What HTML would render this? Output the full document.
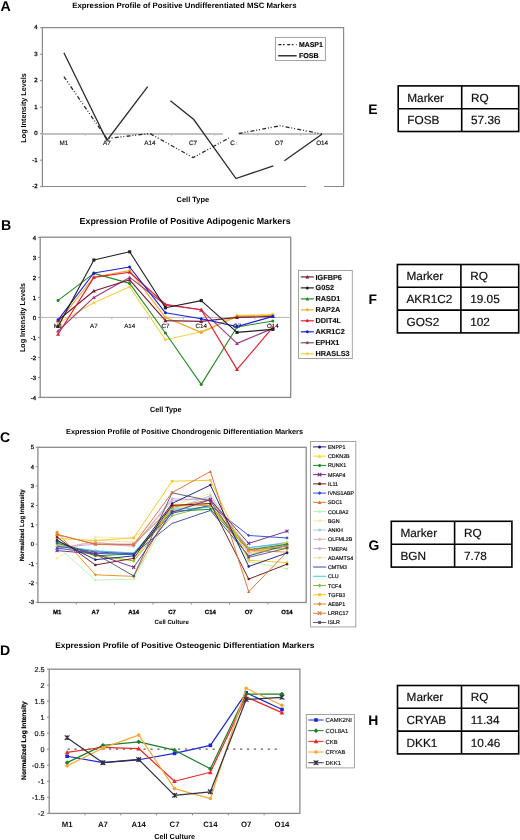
<!DOCTYPE html>
<html><head><meta charset="utf-8"><style>
html,body{margin:0;padding:0;background:#fff;}
svg{display:block;font-family:"Liberation Sans", sans-serif;filter:blur(0.35px);}
text{text-rendering:geometricPrecision;}
</style></head><body>
<svg width="520" height="840" viewBox="0 0 520 840">
<rect x="0" y="0" width="520" height="840" fill="#fff"/>
<text x="0.5" y="10.7" font-size="14.2" font-weight="bold" text-anchor="start" fill="#000" >A</text>
<text x="72.2" y="8.1" font-size="7.8" font-weight="bold" text-anchor="start" fill="#000" textLength="224.3" lengthAdjust="spacingAndGlyphs" >Expression Profile of Positive Undifferentiated MSC Markers</text>
<path d="M306.0 186.5H42.4V27.6H343.6V186.5H324.0" fill="none" stroke="#8a8a8a" stroke-width="1.2"/>
<line x1="42.40" y1="134.00" x2="222.70" y2="134.00" stroke="#c2c2c2" stroke-width="1.8" />
<line x1="238.80" y1="134.00" x2="343.60" y2="134.00" stroke="#c2c2c2" stroke-width="1.8" />
<line x1="85.43" y1="133.70" x2="85.43" y2="135.70" stroke="#bdbdbd" stroke-width="1" />
<line x1="128.46" y1="133.70" x2="128.46" y2="135.70" stroke="#bdbdbd" stroke-width="1" />
<line x1="171.49" y1="133.70" x2="171.49" y2="135.70" stroke="#bdbdbd" stroke-width="1" />
<line x1="214.51" y1="133.70" x2="214.51" y2="135.70" stroke="#bdbdbd" stroke-width="1" />
<line x1="257.54" y1="133.70" x2="257.54" y2="135.70" stroke="#bdbdbd" stroke-width="1" />
<line x1="300.57" y1="133.70" x2="300.57" y2="135.70" stroke="#bdbdbd" stroke-width="1" />
<line x1="39.90" y1="186.70" x2="42.40" y2="186.70" stroke="#8a8a8a" stroke-width="1" />
<text x="37.6" y="188.1" font-size="6.0" font-weight="normal" text-anchor="end" fill="#111" stroke="#111" stroke-width="0.3">-2</text>
<line x1="39.90" y1="160.20" x2="42.40" y2="160.20" stroke="#8a8a8a" stroke-width="1" />
<text x="37.6" y="161.6" font-size="6.0" font-weight="normal" text-anchor="end" fill="#111" stroke="#111" stroke-width="0.3">-1</text>
<line x1="39.90" y1="133.70" x2="42.40" y2="133.70" stroke="#8a8a8a" stroke-width="1" />
<text x="37.6" y="135.1" font-size="6.0" font-weight="normal" text-anchor="end" fill="#111" stroke="#111" stroke-width="0.3">0</text>
<line x1="39.90" y1="107.20" x2="42.40" y2="107.20" stroke="#8a8a8a" stroke-width="1" />
<text x="37.6" y="108.6" font-size="6.0" font-weight="normal" text-anchor="end" fill="#111" stroke="#111" stroke-width="0.3">1</text>
<line x1="39.90" y1="80.70" x2="42.40" y2="80.70" stroke="#8a8a8a" stroke-width="1" />
<text x="37.6" y="82.1" font-size="6.0" font-weight="normal" text-anchor="end" fill="#111" stroke="#111" stroke-width="0.3">2</text>
<line x1="39.90" y1="54.20" x2="42.40" y2="54.20" stroke="#8a8a8a" stroke-width="1" />
<text x="37.6" y="55.59999999999999" font-size="6.0" font-weight="normal" text-anchor="end" fill="#111" stroke="#111" stroke-width="0.3">3</text>
<line x1="39.90" y1="27.70" x2="42.40" y2="27.70" stroke="#8a8a8a" stroke-width="1" />
<text x="37.6" y="29.099999999999987" font-size="6.0" font-weight="normal" text-anchor="end" fill="#111" stroke="#111" stroke-width="0.3">4</text>
<text x="63.91428571428571" y="145.0" font-size="6.3" font-weight="normal" text-anchor="middle" fill="#111" stroke="#111" stroke-width="0.15">M1</text>
<text x="106.94285714285715" y="145.0" font-size="6.3" font-weight="normal" text-anchor="middle" fill="#111" stroke="#111" stroke-width="0.15">A7</text>
<text x="149.9714285714286" y="145.0" font-size="6.3" font-weight="normal" text-anchor="middle" fill="#111" stroke="#111" stroke-width="0.15">A14</text>
<text x="193.00000000000003" y="145.0" font-size="6.3" font-weight="normal" text-anchor="middle" fill="#111" stroke="#111" stroke-width="0.15">C7</text>
<text x="230.2" y="145.0" font-size="6.3" font-weight="normal" text-anchor="start" fill="#111" stroke="#111" stroke-width="0.2">C</text>
<text x="235.6" y="145.0" font-size="4.6" font-weight="normal" text-anchor="start" fill="#aaa" >1</text>
<text x="279.0571428571429" y="145.0" font-size="6.3" font-weight="normal" text-anchor="middle" fill="#111" stroke="#111" stroke-width="0.15">O7</text>
<text x="322.0857142857143" y="145.0" font-size="6.3" font-weight="normal" text-anchor="middle" fill="#111" stroke="#111" stroke-width="0.15">O14</text>
<text x="0" y="0" font-size="7.3" font-weight="bold" text-anchor="middle" fill="#000" textLength="69.5" lengthAdjust="spacingAndGlyphs" transform="translate(26.2 107.9) rotate(-90)">Log Intensity Levels</text>
<text x="176.6" y="201.9" font-size="7.5" font-weight="bold" text-anchor="start" fill="#000" textLength="32.6" lengthAdjust="spacingAndGlyphs" >Cell Type</text>
<polyline points="63.90,76.70 106.90,138.60 149.90,133.50 193.10,157.60 228.80,138.10" fill="none" stroke="#2b2b2b" stroke-width="1.3" stroke-linejoin="miter" stroke-dasharray="4,1.8,1,1.8,1,2.3"/>
<polyline points="238.80,133.50 280.20,125.80 321.90,134.00" fill="none" stroke="#2b2b2b" stroke-width="1.3" stroke-linejoin="miter" stroke-dasharray="4,1.8,1,1.8,1,2.3"/>
<polyline points="63.90,52.70 106.90,140.50 147.70,86.70" fill="none" stroke="#2b2b2b" stroke-width="1.3" stroke-linejoin="miter"/>
<polyline points="170.40,100.80 193.80,119.50 236.00,178.60 273.30,165.80" fill="none" stroke="#2b2b2b" stroke-width="1.3" stroke-linejoin="miter"/>
<polyline points="284.40,160.80 321.90,134.20" fill="none" stroke="#2b2b2b" stroke-width="1.3" stroke-linejoin="miter"/>
<rect x="275.40" y="37.40" width="50.00" height="23.10" stroke="#999" fill="#fff" stroke-width="0.9" />
<line x1="278.40" y1="44.60" x2="296.60" y2="44.60" stroke="#222" stroke-width="1.2" stroke-dasharray="3,1.6,1.6,2.6"/>
<line x1="278.20" y1="55.80" x2="296.60" y2="55.80" stroke="#111" stroke-width="1.3" />
<text x="299.0" y="47.2" font-size="7" font-weight="bold" text-anchor="start" fill="#000" textLength="23.8" lengthAdjust="spacingAndGlyphs" stroke="#000" stroke-width="0.15">MASP1</text>
<text x="299.0" y="58.4" font-size="7" font-weight="bold" text-anchor="start" fill="#000" textLength="19.7" lengthAdjust="spacingAndGlyphs" stroke="#000" stroke-width="0.15">FOSB</text>
<text x="368.2" y="114.1" font-size="13.9" font-weight="bold" text-anchor="start" fill="#000" >E</text>
<text x="0.9" y="229.9" font-size="14.2" font-weight="bold" text-anchor="start" fill="#000" >B</text>
<text x="79.6" y="223.5" font-size="8.7" font-weight="bold" text-anchor="start" fill="#000" textLength="211.0" lengthAdjust="spacingAndGlyphs" >Expression Profile of Positive Adipogenic Markers</text>
<rect x="40.20" y="237.20" width="250.50" height="160.20" stroke="#8a8a8a" fill="none" stroke-width="1.3" />
<line x1="40.20" y1="317.40" x2="290.70" y2="317.40" stroke="#b5b5b5" stroke-width="1.0" />
<line x1="75.99" y1="317.40" x2="75.99" y2="319.40" stroke="#b5b5b5" stroke-width="1" />
<line x1="111.77" y1="317.40" x2="111.77" y2="319.40" stroke="#b5b5b5" stroke-width="1" />
<line x1="147.56" y1="317.40" x2="147.56" y2="319.40" stroke="#b5b5b5" stroke-width="1" />
<line x1="183.34" y1="317.40" x2="183.34" y2="319.40" stroke="#b5b5b5" stroke-width="1" />
<line x1="219.13" y1="317.40" x2="219.13" y2="319.40" stroke="#b5b5b5" stroke-width="1" />
<line x1="254.91" y1="317.40" x2="254.91" y2="319.40" stroke="#b5b5b5" stroke-width="1" />
<line x1="38.00" y1="397.40" x2="40.20" y2="397.40" stroke="#8a8a8a" stroke-width="1" />
<text x="36.2" y="399.5" font-size="6.0" font-weight="normal" text-anchor="end" fill="#111" stroke="#111" stroke-width="0.3">-4</text>
<line x1="38.00" y1="377.40" x2="40.20" y2="377.40" stroke="#8a8a8a" stroke-width="1" />
<text x="36.2" y="379.5" font-size="6.0" font-weight="normal" text-anchor="end" fill="#111" stroke="#111" stroke-width="0.3">-3</text>
<line x1="38.00" y1="357.40" x2="40.20" y2="357.40" stroke="#8a8a8a" stroke-width="1" />
<text x="36.2" y="359.5" font-size="6.0" font-weight="normal" text-anchor="end" fill="#111" stroke="#111" stroke-width="0.3">-2</text>
<line x1="38.00" y1="337.40" x2="40.20" y2="337.40" stroke="#8a8a8a" stroke-width="1" />
<text x="36.2" y="339.5" font-size="6.0" font-weight="normal" text-anchor="end" fill="#111" stroke="#111" stroke-width="0.3">-1</text>
<line x1="38.00" y1="317.40" x2="40.20" y2="317.40" stroke="#8a8a8a" stroke-width="1" />
<text x="36.2" y="319.5" font-size="6.0" font-weight="normal" text-anchor="end" fill="#111" stroke="#111" stroke-width="0.3">0</text>
<line x1="38.00" y1="297.40" x2="40.20" y2="297.40" stroke="#8a8a8a" stroke-width="1" />
<text x="36.2" y="299.5" font-size="6.0" font-weight="normal" text-anchor="end" fill="#111" stroke="#111" stroke-width="0.3">1</text>
<line x1="38.00" y1="277.40" x2="40.20" y2="277.40" stroke="#8a8a8a" stroke-width="1" />
<text x="36.2" y="279.5" font-size="6.0" font-weight="normal" text-anchor="end" fill="#111" stroke="#111" stroke-width="0.3">2</text>
<line x1="38.00" y1="257.40" x2="40.20" y2="257.40" stroke="#8a8a8a" stroke-width="1" />
<text x="36.2" y="259.5" font-size="6.0" font-weight="normal" text-anchor="end" fill="#111" stroke="#111" stroke-width="0.3">3</text>
<line x1="38.00" y1="237.40" x2="40.20" y2="237.40" stroke="#8a8a8a" stroke-width="1" />
<text x="36.2" y="239.49999999999997" font-size="6.0" font-weight="normal" text-anchor="end" fill="#111" stroke="#111" stroke-width="0.3">4</text>
<text x="58.09285714285714" y="327.6" font-size="6.2" font-weight="normal" text-anchor="middle" fill="#111" stroke="#111" stroke-width="0.15">M1</text>
<text x="93.87857142857143" y="327.6" font-size="6.2" font-weight="normal" text-anchor="middle" fill="#111" stroke="#111" stroke-width="0.15">A7</text>
<text x="129.6642857142857" y="327.6" font-size="6.2" font-weight="normal" text-anchor="middle" fill="#111" stroke="#111" stroke-width="0.15">A14</text>
<text x="165.45" y="327.6" font-size="6.2" font-weight="normal" text-anchor="middle" fill="#111" stroke="#111" stroke-width="0.15">C7</text>
<text x="201.23571428571427" y="327.6" font-size="6.2" font-weight="normal" text-anchor="middle" fill="#111" stroke="#111" stroke-width="0.15">C14</text>
<text x="237.02142857142854" y="327.6" font-size="6.2" font-weight="normal" text-anchor="middle" fill="#111" stroke="#111" stroke-width="0.15">O7</text>
<text x="272.8071428571429" y="327.6" font-size="6.2" font-weight="normal" text-anchor="middle" fill="#111" stroke="#111" stroke-width="0.15">O14</text>
<text x="0" y="0" font-size="7.3" font-weight="bold" text-anchor="middle" fill="#000" textLength="69.0" lengthAdjust="spacingAndGlyphs" transform="translate(25.4 317.6) rotate(-90)">Log Intensity Levels</text>
<polyline points="58.09,323.40 93.88,302.80 129.66,286.80 165.45,339.80 201.24,331.80 237.02,315.40 272.81,314.40" fill="none" stroke="#f2d24a" stroke-width="1.15" stroke-linejoin="round"/>
<circle cx="58.09" cy="323.40" r="1.55" fill="#f2d24a"/>
<circle cx="93.88" cy="302.80" r="1.55" fill="#f2d24a"/>
<circle cx="129.66" cy="286.80" r="1.55" fill="#f2d24a"/>
<circle cx="165.45" cy="339.80" r="1.55" fill="#f2d24a"/>
<circle cx="201.24" cy="331.80" r="1.55" fill="#f2d24a"/>
<circle cx="237.02" cy="315.40" r="1.55" fill="#f2d24a"/>
<circle cx="272.81" cy="314.40" r="1.55" fill="#f2d24a"/>
<polyline points="58.09,322.40 93.88,277.00 129.66,270.60 165.45,317.40 201.24,332.40 237.02,316.40 272.81,315.40" fill="none" stroke="#f0a830" stroke-width="1.15" stroke-linejoin="round"/>
<circle cx="58.09" cy="322.40" r="1.55" fill="#f0a830"/>
<circle cx="93.88" cy="277.00" r="1.55" fill="#f0a830"/>
<circle cx="129.66" cy="270.60" r="1.55" fill="#f0a830"/>
<circle cx="165.45" cy="317.40" r="1.55" fill="#f0a830"/>
<circle cx="201.24" cy="332.40" r="1.55" fill="#f0a830"/>
<circle cx="237.02" cy="316.40" r="1.55" fill="#f0a830"/>
<circle cx="272.81" cy="315.40" r="1.55" fill="#f0a830"/>
<polyline points="58.09,300.40 93.88,273.40 129.66,283.40 165.45,333.00 201.24,384.40 237.02,327.00 272.81,321.00" fill="none" stroke="#2a8a2a" stroke-width="1.15" stroke-linejoin="round"/>
<circle cx="58.09" cy="300.40" r="1.55" fill="#2a8a2a"/>
<circle cx="93.88" cy="273.40" r="1.55" fill="#2a8a2a"/>
<circle cx="129.66" cy="283.40" r="1.55" fill="#2a8a2a"/>
<circle cx="165.45" cy="333.00" r="1.55" fill="#2a8a2a"/>
<circle cx="201.24" cy="384.40" r="1.55" fill="#2a8a2a"/>
<circle cx="237.02" cy="327.00" r="1.55" fill="#2a8a2a"/>
<circle cx="272.81" cy="321.00" r="1.55" fill="#2a8a2a"/>
<polyline points="58.09,331.00 93.88,297.40 129.66,277.40 165.45,305.00 201.24,309.80 237.02,343.40 272.81,328.40" fill="none" stroke="#9a3f8a" stroke-width="1.15" stroke-linejoin="round"/>
<path d="M58.09 328.99L60.11 332.61L56.08 332.61Z" fill="#9a3f8a"/>
<path d="M93.88 295.38L95.89 299.01L91.86 299.01Z" fill="#9a3f8a"/>
<path d="M129.66 275.38L131.68 279.01L127.65 279.01Z" fill="#9a3f8a"/>
<path d="M165.45 302.99L167.46 306.61L163.44 306.61Z" fill="#9a3f8a"/>
<path d="M201.24 307.78L203.25 311.41L199.22 311.41Z" fill="#9a3f8a"/>
<path d="M237.02 341.38L239.04 345.01L235.01 345.01Z" fill="#9a3f8a"/>
<path d="M272.81 326.38L274.82 330.01L270.79 330.01Z" fill="#9a3f8a"/>
<polyline points="58.09,320.20 93.88,291.00 129.66,279.80 165.45,320.60 201.24,321.40 237.02,317.40 272.81,316.40" fill="none" stroke="#7a1c34" stroke-width="1.15" stroke-linejoin="round"/>
<path d="M58.09 318.19L60.11 321.81L56.08 321.81Z" fill="#7a1c34"/>
<path d="M93.88 288.99L95.89 292.61L91.86 292.61Z" fill="#7a1c34"/>
<path d="M129.66 277.78L131.68 281.41L127.65 281.41Z" fill="#7a1c34"/>
<path d="M165.45 318.58L167.46 322.21L163.44 322.21Z" fill="#7a1c34"/>
<path d="M201.24 319.38L203.25 323.01L199.22 323.01Z" fill="#7a1c34"/>
<path d="M237.02 315.38L239.04 319.01L235.01 319.01Z" fill="#7a1c34"/>
<path d="M272.81 314.38L274.82 318.01L270.79 318.01Z" fill="#7a1c34"/>
<polyline points="58.09,334.20 93.88,277.40 129.66,272.20 165.45,304.20 201.24,309.80 237.02,369.40 272.81,327.40" fill="none" stroke="#e02030" stroke-width="1.15" stroke-linejoin="round"/>
<path d="M58.09 332.19L60.11 335.81L56.08 335.81Z" fill="#e02030"/>
<path d="M93.88 275.38L95.89 279.01L91.86 279.01Z" fill="#e02030"/>
<path d="M129.66 270.19L131.68 273.81L127.65 273.81Z" fill="#e02030"/>
<path d="M165.45 302.19L167.46 305.81L163.44 305.81Z" fill="#e02030"/>
<path d="M201.24 307.78L203.25 311.41L199.22 311.41Z" fill="#e02030"/>
<path d="M237.02 367.38L239.04 371.01L235.01 371.01Z" fill="#e02030"/>
<path d="M272.81 325.38L274.82 329.01L270.79 329.01Z" fill="#e02030"/>
<polyline points="58.09,319.80 93.88,273.00 129.66,267.00 165.45,312.80 201.24,318.80 237.02,326.60 272.81,316.40" fill="none" stroke="#1a22d0" stroke-width="1.15" stroke-linejoin="round"/>
<circle cx="58.09" cy="319.80" r="1.55" fill="#1a22d0"/>
<circle cx="93.88" cy="273.00" r="1.55" fill="#1a22d0"/>
<circle cx="129.66" cy="267.00" r="1.55" fill="#1a22d0"/>
<circle cx="165.45" cy="312.80" r="1.55" fill="#1a22d0"/>
<circle cx="201.24" cy="318.80" r="1.55" fill="#1a22d0"/>
<circle cx="237.02" cy="326.60" r="1.55" fill="#1a22d0"/>
<circle cx="272.81" cy="316.40" r="1.55" fill="#1a22d0"/>
<polyline points="58.09,326.40 93.88,260.00 129.66,251.80 165.45,307.80 201.24,300.60 237.02,332.40 272.81,329.40" fill="none" stroke="#222222" stroke-width="1.15" stroke-linejoin="round"/>
<rect x="56.54" y="324.85" width="3.10" height="3.10" fill="#222222"/>
<rect x="92.33" y="258.45" width="3.10" height="3.10" fill="#222222"/>
<rect x="128.11" y="250.25" width="3.10" height="3.10" fill="#222222"/>
<rect x="163.90" y="306.25" width="3.10" height="3.10" fill="#222222"/>
<rect x="199.69" y="299.05" width="3.10" height="3.10" fill="#222222"/>
<rect x="235.47" y="330.85" width="3.10" height="3.10" fill="#222222"/>
<rect x="271.26" y="327.85" width="3.10" height="3.10" fill="#222222"/>
<text x="150.0" y="412.3" font-size="7.5" font-weight="bold" text-anchor="start" fill="#000" textLength="31.5" lengthAdjust="spacingAndGlyphs" >Cell Type</text>
<rect x="298.50" y="270.50" width="53.80" height="88.00" stroke="#999" fill="#fff" stroke-width="0.9" />
<line x1="300.80" y1="276.90" x2="313.80" y2="276.90" stroke="#7a1c34" stroke-width="1.2" />
<path d="M307.30 274.95L309.25 278.46L305.35 278.46Z" fill="#7a1c34"/>
<text x="315.5" y="279.5" font-size="7.3" font-weight="bold" text-anchor="start" fill="#111" stroke="#111" stroke-width="0.12">IGFBP6</text>
<line x1="300.80" y1="287.88" x2="313.80" y2="287.88" stroke="#222222" stroke-width="1.2" />
<circle cx="307.30" cy="287.88" r="1.50" fill="#222222"/>
<text x="315.5" y="290.48" font-size="7.3" font-weight="bold" text-anchor="start" fill="#111" stroke="#111" stroke-width="0.12">G0S2</text>
<line x1="300.80" y1="298.86" x2="313.80" y2="298.86" stroke="#2a8a2a" stroke-width="1.2" />
<path d="M307.30 296.91L309.25 300.42L305.35 300.42Z" fill="#2a8a2a"/>
<text x="315.5" y="301.46" font-size="7.3" font-weight="bold" text-anchor="start" fill="#111" stroke="#111" stroke-width="0.12">RASD1</text>
<line x1="300.80" y1="309.84" x2="313.80" y2="309.84" stroke="#f0b030" stroke-width="1.2" />
<circle cx="307.30" cy="309.84" r="1.50" fill="#f0b030"/>
<text x="315.5" y="312.44" font-size="7.3" font-weight="bold" text-anchor="start" fill="#111" stroke="#111" stroke-width="0.12">RAP2A</text>
<line x1="300.80" y1="320.82" x2="313.80" y2="320.82" stroke="#e02030" stroke-width="1.2" />
<circle cx="307.30" cy="320.82" r="1.50" fill="#e02030"/>
<text x="315.5" y="323.42" font-size="7.3" font-weight="bold" text-anchor="start" fill="#111" stroke="#111" stroke-width="0.12">DDIT4L</text>
<line x1="300.80" y1="331.80" x2="313.80" y2="331.80" stroke="#1a22d0" stroke-width="1.2" />
<circle cx="307.30" cy="331.80" r="1.50" fill="#1a22d0"/>
<text x="315.5" y="334.4" font-size="7.3" font-weight="bold" text-anchor="start" fill="#111" stroke="#111" stroke-width="0.12">AKR1C2</text>
<line x1="300.80" y1="342.78" x2="313.80" y2="342.78" stroke="#805060" stroke-width="1.2" />
<circle cx="307.30" cy="342.78" r="1.50" fill="#805060"/>
<text x="315.5" y="345.38" font-size="7.3" font-weight="bold" text-anchor="start" fill="#111" stroke="#111" stroke-width="0.12">EPHX1</text>
<line x1="300.80" y1="353.76" x2="313.80" y2="353.76" stroke="#f2d24a" stroke-width="1.2" />
<circle cx="307.30" cy="353.76" r="1.50" fill="#f2d24a"/>
<text x="315.5" y="356.36" font-size="7.3" font-weight="bold" text-anchor="start" fill="#111" stroke="#111" stroke-width="0.12">HRASLS3</text>
<text x="0.0" y="441.8" font-size="14.0" font-weight="bold" text-anchor="start" fill="#000" >C</text>
<text x="66.0" y="434.2" font-size="7.35" font-weight="bold" text-anchor="start" fill="#000" textLength="237.0" lengthAdjust="spacingAndGlyphs" >Expression Profile of Positive Chondrogenic Differentiation Markers</text>
<rect x="37.90" y="447.30" width="268.30" height="155.20" stroke="#8a8a8a" fill="none" stroke-width="1.3" />
<line x1="76.23" y1="602.50" x2="76.23" y2="604.50" stroke="#8a8a8a" stroke-width="1" />
<line x1="114.56" y1="602.50" x2="114.56" y2="604.50" stroke="#8a8a8a" stroke-width="1" />
<line x1="152.89" y1="602.50" x2="152.89" y2="604.50" stroke="#8a8a8a" stroke-width="1" />
<line x1="191.21" y1="602.50" x2="191.21" y2="604.50" stroke="#8a8a8a" stroke-width="1" />
<line x1="229.54" y1="602.50" x2="229.54" y2="604.50" stroke="#8a8a8a" stroke-width="1" />
<line x1="267.87" y1="602.50" x2="267.87" y2="604.50" stroke="#8a8a8a" stroke-width="1" />
<line x1="35.70" y1="602.34" x2="37.90" y2="602.34" stroke="#8a8a8a" stroke-width="1" />
<text x="34.0" y="604.34" font-size="5.9" font-weight="normal" text-anchor="end" fill="#111" stroke="#111" stroke-width="0.3">-3</text>
<line x1="35.70" y1="582.96" x2="37.90" y2="582.96" stroke="#8a8a8a" stroke-width="1" />
<text x="34.0" y="584.96" font-size="5.9" font-weight="normal" text-anchor="end" fill="#111" stroke="#111" stroke-width="0.3">-2</text>
<line x1="35.70" y1="563.58" x2="37.90" y2="563.58" stroke="#8a8a8a" stroke-width="1" />
<text x="34.0" y="565.58" font-size="5.9" font-weight="normal" text-anchor="end" fill="#111" stroke="#111" stroke-width="0.3">-1</text>
<line x1="35.70" y1="544.20" x2="37.90" y2="544.20" stroke="#8a8a8a" stroke-width="1" />
<text x="34.0" y="546.2" font-size="5.9" font-weight="normal" text-anchor="end" fill="#111" stroke="#111" stroke-width="0.3">0</text>
<line x1="35.70" y1="524.82" x2="37.90" y2="524.82" stroke="#8a8a8a" stroke-width="1" />
<text x="34.0" y="526.82" font-size="5.9" font-weight="normal" text-anchor="end" fill="#111" stroke="#111" stroke-width="0.3">1</text>
<line x1="35.70" y1="505.44" x2="37.90" y2="505.44" stroke="#8a8a8a" stroke-width="1" />
<text x="34.0" y="507.44000000000005" font-size="5.9" font-weight="normal" text-anchor="end" fill="#111" stroke="#111" stroke-width="0.3">2</text>
<line x1="35.70" y1="486.06" x2="37.90" y2="486.06" stroke="#8a8a8a" stroke-width="1" />
<text x="34.0" y="488.06000000000006" font-size="5.9" font-weight="normal" text-anchor="end" fill="#111" stroke="#111" stroke-width="0.3">3</text>
<line x1="35.70" y1="466.68" x2="37.90" y2="466.68" stroke="#8a8a8a" stroke-width="1" />
<text x="34.0" y="468.68000000000006" font-size="5.9" font-weight="normal" text-anchor="end" fill="#111" stroke="#111" stroke-width="0.3">4</text>
<line x1="35.70" y1="447.30" x2="37.90" y2="447.30" stroke="#8a8a8a" stroke-width="1" />
<text x="34.0" y="449.30000000000007" font-size="5.9" font-weight="normal" text-anchor="end" fill="#111" stroke="#111" stroke-width="0.3">5</text>
<text x="57.06428571428572" y="613.6" font-size="6.0" font-weight="bold" text-anchor="middle" fill="#000" stroke="#000" stroke-width="0.25">M1</text>
<text x="95.39285714285714" y="613.6" font-size="6.0" font-weight="bold" text-anchor="middle" fill="#000" stroke="#000" stroke-width="0.25">A7</text>
<text x="133.72142857142856" y="613.6" font-size="6.0" font-weight="bold" text-anchor="middle" fill="#000" stroke="#000" stroke-width="0.25">A14</text>
<text x="172.05" y="613.6" font-size="6.0" font-weight="bold" text-anchor="middle" fill="#000" stroke="#000" stroke-width="0.25">C7</text>
<text x="210.37857142857143" y="613.6" font-size="6.0" font-weight="bold" text-anchor="middle" fill="#000" stroke="#000" stroke-width="0.25">C14</text>
<text x="248.70714285714286" y="613.6" font-size="6.0" font-weight="bold" text-anchor="middle" fill="#000" stroke="#000" stroke-width="0.25">O7</text>
<text x="287.0357142857143" y="613.6" font-size="6.0" font-weight="bold" text-anchor="middle" fill="#000" stroke="#000" stroke-width="0.25">O14</text>
<text x="0" y="0" font-size="6.1" font-weight="bold" text-anchor="middle" fill="#000" textLength="72.0" lengthAdjust="spacingAndGlyphs" stroke="#000" stroke-width="0.15" transform="translate(24.3 525.3) rotate(-90)">Normalized Log Intensity</text>
<text x="154.6" y="624.0" font-size="6.1" font-weight="bold" text-anchor="start" fill="#000" textLength="34.2" lengthAdjust="spacingAndGlyphs" >Cell Culture</text>
<polyline points="57.06,558.15 95.39,537.03 133.72,538.39 172.05,505.44 210.38,493.81 248.71,548.08 287.04,550.01" fill="none" stroke="#f8eca0" stroke-width="0.95" stroke-linejoin="round"/>
<circle cx="57.06" cy="558.15" r="1.25" fill="#f8eca0"/>
<circle cx="95.39" cy="537.03" r="1.25" fill="#f8eca0"/>
<circle cx="133.72" cy="538.39" r="1.25" fill="#f8eca0"/>
<circle cx="172.05" cy="505.44" r="1.25" fill="#f8eca0"/>
<circle cx="210.38" cy="493.81" r="1.25" fill="#f8eca0"/>
<circle cx="248.71" cy="548.08" r="1.25" fill="#f8eca0"/>
<circle cx="287.04" cy="550.01" r="1.25" fill="#f8eca0"/>
<polyline points="57.06,550.01 95.39,540.32 133.72,542.26 172.05,507.38 210.38,501.56 248.71,553.89 287.04,546.14" fill="none" stroke="#e8e2b0" stroke-width="0.95" stroke-linejoin="round"/>
<circle cx="57.06" cy="550.01" r="1.25" fill="#e8e2b0"/>
<circle cx="95.39" cy="540.32" r="1.25" fill="#e8e2b0"/>
<circle cx="133.72" cy="542.26" r="1.25" fill="#e8e2b0"/>
<circle cx="172.05" cy="507.38" r="1.25" fill="#e8e2b0"/>
<circle cx="210.38" cy="501.56" r="1.25" fill="#e8e2b0"/>
<circle cx="248.71" cy="553.89" r="1.25" fill="#e8e2b0"/>
<circle cx="287.04" cy="546.14" r="1.25" fill="#e8e2b0"/>
<polyline points="57.06,548.08 95.39,542.26 133.72,546.14 172.05,500.79 210.38,497.69 248.71,552.73 287.04,544.20" fill="none" stroke="#e4b0c8" stroke-width="0.95" stroke-linejoin="round"/>
<circle cx="57.06" cy="548.08" r="1.25" fill="#e4b0c8"/>
<circle cx="95.39" cy="542.26" r="1.25" fill="#e4b0c8"/>
<circle cx="133.72" cy="546.14" r="1.25" fill="#e4b0c8"/>
<circle cx="172.05" cy="500.79" r="1.25" fill="#e4b0c8"/>
<circle cx="210.38" cy="497.69" r="1.25" fill="#e4b0c8"/>
<circle cx="248.71" cy="552.73" r="1.25" fill="#e4b0c8"/>
<circle cx="287.04" cy="544.20" r="1.25" fill="#e4b0c8"/>
<polyline points="57.06,547.69 95.39,544.20 133.72,546.14 172.05,498.85 210.38,499.63 248.71,548.08 287.04,542.26" fill="none" stroke="#c4aadc" stroke-width="0.95" stroke-linejoin="round"/>
<circle cx="57.06" cy="547.69" r="1.25" fill="#c4aadc"/>
<circle cx="95.39" cy="544.20" r="1.25" fill="#c4aadc"/>
<circle cx="133.72" cy="546.14" r="1.25" fill="#c4aadc"/>
<circle cx="172.05" cy="498.85" r="1.25" fill="#c4aadc"/>
<circle cx="210.38" cy="499.63" r="1.25" fill="#c4aadc"/>
<circle cx="248.71" cy="548.08" r="1.25" fill="#c4aadc"/>
<circle cx="287.04" cy="542.26" r="1.25" fill="#c4aadc"/>
<polyline points="57.06,546.14 95.39,550.60 133.72,553.31 172.05,509.32 210.38,495.75 248.71,550.01 287.04,542.26" fill="none" stroke="#a8cce4" stroke-width="0.95" stroke-linejoin="round"/>
<circle cx="57.06" cy="546.14" r="1.25" fill="#a8cce4"/>
<circle cx="95.39" cy="550.60" r="1.25" fill="#a8cce4"/>
<circle cx="133.72" cy="553.31" r="1.25" fill="#a8cce4"/>
<circle cx="172.05" cy="509.32" r="1.25" fill="#a8cce4"/>
<circle cx="210.38" cy="495.75" r="1.25" fill="#a8cce4"/>
<circle cx="248.71" cy="550.01" r="1.25" fill="#a8cce4"/>
<circle cx="287.04" cy="542.26" r="1.25" fill="#a8cce4"/>
<polyline points="57.06,546.14 95.39,580.05 133.72,579.08 172.05,509.32 210.38,503.50 248.71,561.64 287.04,568.81" fill="none" stroke="#bff0bf" stroke-width="0.95" stroke-linejoin="round"/>
<circle cx="57.06" cy="546.14" r="1.25" fill="#bff0bf"/>
<circle cx="95.39" cy="580.05" r="1.25" fill="#bff0bf"/>
<circle cx="133.72" cy="579.08" r="1.25" fill="#bff0bf"/>
<circle cx="172.05" cy="509.32" r="1.25" fill="#bff0bf"/>
<circle cx="210.38" cy="503.50" r="1.25" fill="#bff0bf"/>
<circle cx="248.71" cy="561.64" r="1.25" fill="#bff0bf"/>
<circle cx="287.04" cy="568.81" r="1.25" fill="#bff0bf"/>
<polyline points="57.06,545.17 95.39,550.98 133.72,552.92 172.05,509.32 210.38,507.38 248.71,547.49 287.04,543.23" fill="none" stroke="#48c4d4" stroke-width="0.95" stroke-linejoin="round"/>
<polyline points="57.06,544.20 95.39,555.83 133.72,560.87 172.05,506.41 210.38,505.44 248.71,555.83 287.04,542.26" fill="none" stroke="#e8e020" stroke-width="0.95" stroke-linejoin="round"/>
<path d="M57.06 542.58L58.69 545.50L55.44 545.50Z" fill="#e8e020"/>
<path d="M95.39 554.20L97.02 557.13L93.77 557.13Z" fill="#e8e020"/>
<path d="M133.72 559.24L135.35 562.17L132.10 562.17Z" fill="#e8e020"/>
<path d="M172.05 504.78L173.68 507.71L170.43 507.71Z" fill="#e8e020"/>
<path d="M210.38 503.82L212.00 506.74L208.75 506.74Z" fill="#e8e020"/>
<path d="M248.71 554.20L250.33 557.13L247.08 557.13Z" fill="#e8e020"/>
<path d="M287.04 540.64L288.66 543.56L285.41 543.56Z" fill="#e8e020"/>
<polyline points="57.06,542.26 95.39,554.86 133.72,560.87 172.05,515.71 210.38,505.44 248.71,549.24 287.04,548.08" fill="none" stroke="#80c040" stroke-width="0.95" stroke-linejoin="round"/>
<path d="M57.06 540.64L58.69 542.26L57.06 543.89L55.44 542.26Z" fill="#80c040"/>
<path d="M95.39 553.23L97.02 554.86L95.39 556.48L93.77 554.86Z" fill="#80c040"/>
<path d="M133.72 559.24L135.35 560.87L133.72 562.49L132.10 560.87Z" fill="#80c040"/>
<path d="M172.05 514.09L173.68 515.71L172.05 517.34L170.43 515.71Z" fill="#80c040"/>
<path d="M210.38 503.82L212.00 505.44L210.38 507.07L208.75 505.44Z" fill="#80c040"/>
<path d="M248.71 547.61L250.33 549.24L248.71 550.86L247.08 549.24Z" fill="#80c040"/>
<path d="M287.04 546.45L288.66 548.08L287.04 549.70L285.41 548.08Z" fill="#80c040"/>
<polyline points="57.06,541.29 95.39,555.83 133.72,553.89 172.05,511.25 210.38,509.32 248.71,550.01 287.04,544.20" fill="none" stroke="#108a20" stroke-width="0.95" stroke-linejoin="round"/>
<circle cx="57.06" cy="541.29" r="1.25" fill="#108a20"/>
<circle cx="95.39" cy="555.83" r="1.25" fill="#108a20"/>
<circle cx="133.72" cy="553.89" r="1.25" fill="#108a20"/>
<circle cx="172.05" cy="511.25" r="1.25" fill="#108a20"/>
<circle cx="210.38" cy="509.32" r="1.25" fill="#108a20"/>
<circle cx="248.71" cy="550.01" r="1.25" fill="#108a20"/>
<circle cx="287.04" cy="544.20" r="1.25" fill="#108a20"/>
<polyline points="57.06,546.14 95.39,551.95 133.72,553.89 172.05,523.46 210.38,510.48 248.71,555.83 287.04,545.17" fill="none" stroke="#3a4aa8" stroke-width="0.95" stroke-linejoin="round"/>
<polyline points="57.06,548.08 95.39,553.31 133.72,554.47 172.05,513.19 210.38,505.44 248.71,535.48 287.04,538.00" fill="none" stroke="#3050d0" stroke-width="0.95" stroke-linejoin="round"/>
<path d="M57.06 546.45L58.69 548.08L57.06 549.70L55.44 548.08Z" fill="#3050d0"/>
<path d="M95.39 551.68L97.02 553.31L95.39 554.93L93.77 553.31Z" fill="#3050d0"/>
<path d="M133.72 552.85L135.35 554.47L133.72 556.10L132.10 554.47Z" fill="#3050d0"/>
<path d="M172.05 511.57L173.68 513.19L172.05 514.82L170.43 513.19Z" fill="#3050d0"/>
<path d="M210.38 503.82L212.00 505.44L210.38 507.07L208.75 505.44Z" fill="#3050d0"/>
<path d="M248.71 533.85L250.33 535.48L248.71 537.10L247.08 535.48Z" fill="#3050d0"/>
<path d="M287.04 536.37L288.66 538.00L287.04 539.62L285.41 538.00Z" fill="#3050d0"/>
<polyline points="57.06,534.51 95.39,544.20 133.72,544.20 172.05,507.38 210.38,499.63 248.71,550.01 287.04,546.14" fill="none" stroke="#d08040" stroke-width="0.95" stroke-linejoin="round"/>
<path d="M55.56 533.01L58.56 536.01M58.56 533.01L55.56 536.01" stroke="#d08040" stroke-width="1.1"/>
<path d="M93.89 542.70L96.89 545.70M96.89 542.70L93.89 545.70" stroke="#d08040" stroke-width="1.1"/>
<path d="M132.22 542.70L135.22 545.70M135.22 542.70L132.22 545.70" stroke="#d08040" stroke-width="1.1"/>
<path d="M170.55 505.88L173.55 508.88M173.55 505.88L170.55 508.88" stroke="#d08040" stroke-width="1.1"/>
<path d="M208.88 498.13L211.88 501.13M211.88 498.13L208.88 501.13" stroke="#d08040" stroke-width="1.1"/>
<path d="M247.21 548.51L250.21 551.51M250.21 548.51L247.21 551.51" stroke="#d08040" stroke-width="1.1"/>
<path d="M285.54 544.64L288.54 547.64M288.54 544.64L285.54 547.64" stroke="#d08040" stroke-width="1.1"/>
<polyline points="57.06,531.99 95.39,574.82 133.72,576.37 172.05,504.86 210.38,505.44 248.71,550.40 287.04,552.15" fill="none" stroke="#e89020" stroke-width="0.95" stroke-linejoin="round"/>
<path d="M57.06 530.37L58.69 531.99L57.06 533.62L55.44 531.99Z" fill="#e89020"/>
<path d="M95.39 573.20L97.02 574.82L95.39 576.45L93.77 574.82Z" fill="#e89020"/>
<path d="M133.72 574.75L135.35 576.37L133.72 578.00L132.10 576.37Z" fill="#e89020"/>
<path d="M172.05 503.23L173.68 504.86L172.05 506.48L170.43 504.86Z" fill="#e89020"/>
<path d="M210.38 503.82L212.00 505.44L210.38 507.07L208.75 505.44Z" fill="#e89020"/>
<path d="M248.71 548.78L250.33 550.40L248.71 552.03L247.08 550.40Z" fill="#e89020"/>
<path d="M287.04 550.52L288.66 552.15L287.04 553.77L285.41 552.15Z" fill="#e89020"/>
<polyline points="57.06,538.39 95.39,540.52 133.72,537.80 172.05,481.22 210.38,480.25 248.71,560.29 287.04,562.61" fill="none" stroke="#f2c624" stroke-width="0.95" stroke-linejoin="round"/>
<rect x="55.81" y="537.14" width="2.50" height="2.50" fill="#f2c624"/>
<rect x="94.14" y="539.27" width="2.50" height="2.50" fill="#f2c624"/>
<rect x="132.47" y="536.55" width="2.50" height="2.50" fill="#f2c624"/>
<rect x="170.80" y="479.97" width="2.50" height="2.50" fill="#f2c624"/>
<rect x="209.13" y="479.00" width="2.50" height="2.50" fill="#f2c624"/>
<rect x="247.46" y="559.04" width="2.50" height="2.50" fill="#f2c624"/>
<rect x="285.79" y="561.36" width="2.50" height="2.50" fill="#f2c624"/>
<polyline points="57.06,543.23 95.39,553.89 133.72,575.98 172.05,492.84 210.38,500.79 248.71,557.38 287.04,548.08" fill="none" stroke="#585878" stroke-width="0.95" stroke-linejoin="round"/>
<rect x="55.81" y="541.98" width="2.50" height="2.50" fill="#585878"/>
<rect x="94.14" y="552.64" width="2.50" height="2.50" fill="#585878"/>
<rect x="132.47" y="574.73" width="2.50" height="2.50" fill="#585878"/>
<rect x="170.80" y="491.59" width="2.50" height="2.50" fill="#585878"/>
<rect x="209.13" y="499.54" width="2.50" height="2.50" fill="#585878"/>
<rect x="247.46" y="556.13" width="2.50" height="2.50" fill="#585878"/>
<rect x="285.79" y="546.83" width="2.50" height="2.50" fill="#585878"/>
<polyline points="57.06,537.22 95.39,564.94 133.72,558.35 172.05,505.44 210.38,503.50 248.71,579.08 287.04,564.16" fill="none" stroke="#6a1a10" stroke-width="0.95" stroke-linejoin="round"/>
<circle cx="57.06" cy="537.22" r="1.25" fill="#6a1a10"/>
<circle cx="95.39" cy="564.94" r="1.25" fill="#6a1a10"/>
<circle cx="133.72" cy="558.35" r="1.25" fill="#6a1a10"/>
<circle cx="172.05" cy="505.44" r="1.25" fill="#6a1a10"/>
<circle cx="210.38" cy="503.50" r="1.25" fill="#6a1a10"/>
<circle cx="248.71" cy="579.08" r="1.25" fill="#6a1a10"/>
<circle cx="287.04" cy="564.16" r="1.25" fill="#6a1a10"/>
<polyline points="57.06,534.51 95.39,544.20 133.72,544.59 172.05,492.65 210.38,471.53 248.71,591.68 287.04,551.95" fill="none" stroke="#e0703a" stroke-width="0.95" stroke-linejoin="round"/>
<path d="M57.06 532.88L58.69 535.81L55.44 535.81Z" fill="#e0703a"/>
<path d="M95.39 542.58L97.02 545.50L93.77 545.50Z" fill="#e0703a"/>
<path d="M133.72 542.96L135.35 545.89L132.10 545.89Z" fill="#e0703a"/>
<path d="M172.05 491.02L173.68 493.95L170.43 493.95Z" fill="#e0703a"/>
<path d="M210.38 469.90L212.00 472.83L208.75 472.83Z" fill="#e0703a"/>
<path d="M248.71 590.06L250.33 592.98L247.08 592.98Z" fill="#e0703a"/>
<path d="M287.04 550.33L288.66 553.25L285.41 553.25Z" fill="#e0703a"/>
<polyline points="57.06,550.60 95.39,553.89 133.72,567.26 172.05,512.22 210.38,499.63 248.71,543.42 287.04,531.22" fill="none" stroke="#7a2a8a" stroke-width="0.95" stroke-linejoin="round"/>
<path d="M55.56 549.10L58.56 552.10M58.56 549.10L55.56 552.10" stroke="#7a2a8a" stroke-width="1.1"/>
<path d="M93.89 552.39L96.89 555.39M96.89 552.39L93.89 555.39" stroke="#7a2a8a" stroke-width="1.1"/>
<path d="M132.22 565.76L135.22 568.76M135.22 565.76L132.22 568.76" stroke="#7a2a8a" stroke-width="1.1"/>
<path d="M170.55 510.72L173.55 513.72M173.55 510.72L170.55 513.72" stroke="#7a2a8a" stroke-width="1.1"/>
<path d="M208.88 498.13L211.88 501.13M211.88 498.13L208.88 501.13" stroke="#7a2a8a" stroke-width="1.1"/>
<path d="M247.21 541.92L250.21 544.92M250.21 541.92L247.21 544.92" stroke="#7a2a8a" stroke-width="1.1"/>
<path d="M285.54 529.72L288.54 532.72M288.54 529.72L285.54 532.72" stroke="#7a2a8a" stroke-width="1.1"/>
<polyline points="57.06,540.32 95.39,559.70 133.72,555.83 172.05,503.50 210.38,485.09 248.71,566.49 287.04,552.92" fill="none" stroke="#1c1c7c" stroke-width="0.95" stroke-linejoin="round"/>
<circle cx="57.06" cy="540.32" r="1.25" fill="#1c1c7c"/>
<circle cx="95.39" cy="559.70" r="1.25" fill="#1c1c7c"/>
<circle cx="133.72" cy="555.83" r="1.25" fill="#1c1c7c"/>
<circle cx="172.05" cy="503.50" r="1.25" fill="#1c1c7c"/>
<circle cx="210.38" cy="485.09" r="1.25" fill="#1c1c7c"/>
<circle cx="248.71" cy="566.49" r="1.25" fill="#1c1c7c"/>
<circle cx="287.04" cy="552.92" r="1.25" fill="#1c1c7c"/>
<rect x="310.40" y="441.50" width="45.40" height="185.40" stroke="#999" fill="#fff" stroke-width="0.9" />
<line x1="313.10" y1="446.90" x2="326.20" y2="446.90" stroke="#1c1c7c" stroke-width="1.0" />
<circle cx="319.60" cy="446.90" r="1.50" fill="#1c1c7c"/>
<text x="328.0" y="448.9" font-size="5.35" font-weight="normal" text-anchor="start" fill="#111" stroke="#111" stroke-width="0.18">ENPP1</text>
<line x1="313.10" y1="456.14" x2="326.20" y2="456.14" stroke="#e8e020" stroke-width="1.0" />
<path d="M319.60 454.19L321.55 457.70L317.65 457.70Z" fill="#e8e020"/>
<text x="328.0" y="458.14" font-size="5.35" font-weight="normal" text-anchor="start" fill="#111" stroke="#111" stroke-width="0.18">CDKN2B</text>
<line x1="313.10" y1="465.38" x2="326.20" y2="465.38" stroke="#108a20" stroke-width="1.0" />
<circle cx="319.60" cy="465.38" r="1.50" fill="#108a20"/>
<text x="328.0" y="467.38" font-size="5.35" font-weight="normal" text-anchor="start" fill="#111" stroke="#111" stroke-width="0.18">RUNX1</text>
<line x1="313.10" y1="474.62" x2="326.20" y2="474.62" stroke="#7a2a8a" stroke-width="1.0" />
<path d="M317.80 472.82L321.40 476.42M321.40 472.82L317.80 476.42" stroke="#7a2a8a" stroke-width="1.1"/>
<text x="328.0" y="476.62" font-size="5.35" font-weight="normal" text-anchor="start" fill="#111" stroke="#111" stroke-width="0.18">MFAP4</text>
<line x1="313.10" y1="483.86" x2="326.20" y2="483.86" stroke="#6a1a10" stroke-width="1.0" />
<circle cx="319.60" cy="483.86" r="1.50" fill="#6a1a10"/>
<text x="328.0" y="485.85999999999996" font-size="5.35" font-weight="normal" text-anchor="start" fill="#111" stroke="#111" stroke-width="0.18">IL11</text>
<line x1="313.10" y1="493.10" x2="326.20" y2="493.10" stroke="#3050d0" stroke-width="1.0" />
<path d="M319.60 491.15L321.55 493.10L319.60 495.05L317.65 493.10Z" fill="#3050d0"/>
<text x="328.0" y="495.09999999999997" font-size="5.35" font-weight="normal" text-anchor="start" fill="#111" stroke="#111" stroke-width="0.18">IVNS1ABP</text>
<line x1="313.10" y1="502.34" x2="326.20" y2="502.34" stroke="#e0703a" stroke-width="1.0" />
<path d="M319.60 500.39L321.55 503.90L317.65 503.90Z" fill="#e0703a"/>
<text x="328.0" y="504.34" font-size="5.35" font-weight="normal" text-anchor="start" fill="#111" stroke="#111" stroke-width="0.18">SDC1</text>
<line x1="313.10" y1="511.58" x2="326.20" y2="511.58" stroke="#bff0bf" stroke-width="1.0" />
<circle cx="319.60" cy="511.58" r="1.50" fill="#bff0bf"/>
<text x="328.0" y="513.5799999999999" font-size="5.35" font-weight="normal" text-anchor="start" fill="#111" stroke="#111" stroke-width="0.18">COL8A2</text>
<line x1="313.10" y1="520.82" x2="326.20" y2="520.82" stroke="#f8eca0" stroke-width="1.0" />
<circle cx="319.60" cy="520.82" r="1.50" fill="#f8eca0"/>
<text x="328.0" y="522.8199999999999" font-size="5.35" font-weight="normal" text-anchor="start" fill="#111" stroke="#111" stroke-width="0.18">BGN</text>
<line x1="313.10" y1="530.06" x2="326.20" y2="530.06" stroke="#a8cce4" stroke-width="1.0" />
<circle cx="319.60" cy="530.06" r="1.50" fill="#a8cce4"/>
<text x="328.0" y="532.06" font-size="5.35" font-weight="normal" text-anchor="start" fill="#111" stroke="#111" stroke-width="0.18">ANKH</text>
<line x1="313.10" y1="539.30" x2="326.20" y2="539.30" stroke="#e4b0c8" stroke-width="1.0" />
<circle cx="319.60" cy="539.30" r="1.50" fill="#e4b0c8"/>
<text x="328.0" y="541.3" font-size="5.35" font-weight="normal" text-anchor="start" fill="#111" stroke="#111" stroke-width="0.18">OLFML2B</text>
<line x1="313.10" y1="548.54" x2="326.20" y2="548.54" stroke="#c4aadc" stroke-width="1.0" />
<circle cx="319.60" cy="548.54" r="1.50" fill="#c4aadc"/>
<text x="328.0" y="550.54" font-size="5.35" font-weight="normal" text-anchor="start" fill="#111" stroke="#111" stroke-width="0.18">TMEPAI</text>
<line x1="313.10" y1="557.78" x2="326.20" y2="557.78" stroke="#e8e2b0" stroke-width="1.0" />
<circle cx="319.60" cy="557.78" r="1.50" fill="#e8e2b0"/>
<text x="328.0" y="559.78" font-size="5.35" font-weight="normal" text-anchor="start" fill="#111" stroke="#111" stroke-width="0.18">ADAMTS4</text>
<line x1="313.10" y1="567.02" x2="326.20" y2="567.02" stroke="#3a4aa8" stroke-width="1.0" />
<text x="328.0" y="569.02" font-size="5.35" font-weight="normal" text-anchor="start" fill="#111" stroke="#111" stroke-width="0.18">CMTM3</text>
<line x1="313.10" y1="576.26" x2="326.20" y2="576.26" stroke="#48c4d4" stroke-width="1.0" />
<text x="328.0" y="578.26" font-size="5.35" font-weight="normal" text-anchor="start" fill="#111" stroke="#111" stroke-width="0.18">CLU</text>
<line x1="313.10" y1="585.50" x2="326.20" y2="585.50" stroke="#80c040" stroke-width="1.0" />
<path d="M319.60 583.55L321.55 585.50L319.60 587.45L317.65 585.50Z" fill="#80c040"/>
<text x="328.0" y="587.5" font-size="5.35" font-weight="normal" text-anchor="start" fill="#111" stroke="#111" stroke-width="0.18">TCF4</text>
<line x1="313.10" y1="594.74" x2="326.20" y2="594.74" stroke="#f2c624" stroke-width="1.0" />
<rect x="318.10" y="593.24" width="3.00" height="3.00" fill="#f2c624"/>
<text x="328.0" y="596.74" font-size="5.35" font-weight="normal" text-anchor="start" fill="#111" stroke="#111" stroke-width="0.18">TGFB3</text>
<line x1="313.10" y1="603.98" x2="326.20" y2="603.98" stroke="#e89020" stroke-width="1.0" />
<path d="M319.60 602.03L321.55 603.98L319.60 605.93L317.65 603.98Z" fill="#e89020"/>
<text x="328.0" y="605.98" font-size="5.35" font-weight="normal" text-anchor="start" fill="#111" stroke="#111" stroke-width="0.18">AEBP1</text>
<line x1="313.10" y1="613.22" x2="326.20" y2="613.22" stroke="#d08040" stroke-width="1.0" />
<path d="M317.80 611.42L321.40 615.02M321.40 611.42L317.80 615.02" stroke="#d08040" stroke-width="1.1"/>
<text x="328.0" y="615.22" font-size="5.35" font-weight="normal" text-anchor="start" fill="#111" stroke="#111" stroke-width="0.18">LRRC17</text>
<line x1="313.10" y1="622.46" x2="326.20" y2="622.46" stroke="#585878" stroke-width="1.0" />
<rect x="318.10" y="620.96" width="3.00" height="3.00" fill="#585878"/>
<text x="328.0" y="624.46" font-size="5.35" font-weight="normal" text-anchor="start" fill="#111" stroke="#111" stroke-width="0.18">ISLR</text>
<text x="0.0" y="654.5" font-size="14.0" font-weight="bold" text-anchor="start" fill="#000" >D</text>
<text x="55.3" y="648.1" font-size="8.1" font-weight="bold" text-anchor="start" fill="#000" textLength="259.0" lengthAdjust="spacingAndGlyphs" >Expression Profile of Positive Osteogenic Differentiation Markers</text>
<rect x="49.20" y="669.20" width="250.70" height="144.20" stroke="#8a8a8a" fill="none" stroke-width="1.3" />
<line x1="85.01" y1="813.40" x2="85.01" y2="815.40" stroke="#8a8a8a" stroke-width="1" />
<line x1="120.83" y1="813.40" x2="120.83" y2="815.40" stroke="#8a8a8a" stroke-width="1" />
<line x1="156.64" y1="813.40" x2="156.64" y2="815.40" stroke="#8a8a8a" stroke-width="1" />
<line x1="192.46" y1="813.40" x2="192.46" y2="815.40" stroke="#8a8a8a" stroke-width="1" />
<line x1="228.27" y1="813.40" x2="228.27" y2="815.40" stroke="#8a8a8a" stroke-width="1" />
<line x1="264.09" y1="813.40" x2="264.09" y2="815.40" stroke="#8a8a8a" stroke-width="1" />
<line x1="47.00" y1="669.08" x2="49.20" y2="669.08" stroke="#8a8a8a" stroke-width="1" />
<text x="44.4" y="671.6750000000001" font-size="7.2" font-weight="normal" text-anchor="end" fill="#222" stroke="#222" stroke-width="0.2">2.5</text>
<line x1="47.00" y1="685.10" x2="49.20" y2="685.10" stroke="#8a8a8a" stroke-width="1" />
<text x="44.4" y="687.7" font-size="7.2" font-weight="normal" text-anchor="end" fill="#222" stroke="#222" stroke-width="0.2">2</text>
<line x1="47.00" y1="701.12" x2="49.20" y2="701.12" stroke="#8a8a8a" stroke-width="1" />
<text x="44.4" y="703.725" font-size="7.2" font-weight="normal" text-anchor="end" fill="#222" stroke="#222" stroke-width="0.2">1.5</text>
<line x1="47.00" y1="717.15" x2="49.20" y2="717.15" stroke="#8a8a8a" stroke-width="1" />
<text x="44.4" y="719.7500000000001" font-size="7.2" font-weight="normal" text-anchor="end" fill="#222" stroke="#222" stroke-width="0.2">1</text>
<line x1="47.00" y1="733.18" x2="49.20" y2="733.18" stroke="#8a8a8a" stroke-width="1" />
<text x="44.4" y="735.7750000000001" font-size="7.2" font-weight="normal" text-anchor="end" fill="#222" stroke="#222" stroke-width="0.2">0.5</text>
<line x1="47.00" y1="749.20" x2="49.20" y2="749.20" stroke="#8a8a8a" stroke-width="1" />
<text x="44.4" y="751.8000000000001" font-size="7.2" font-weight="normal" text-anchor="end" fill="#222" stroke="#222" stroke-width="0.2">0</text>
<line x1="47.00" y1="765.23" x2="49.20" y2="765.23" stroke="#8a8a8a" stroke-width="1" />
<text x="44.4" y="767.825" font-size="7.2" font-weight="normal" text-anchor="end" fill="#222" stroke="#222" stroke-width="0.2">-0.5</text>
<line x1="47.00" y1="781.25" x2="49.20" y2="781.25" stroke="#8a8a8a" stroke-width="1" />
<text x="44.4" y="783.85" font-size="7.2" font-weight="normal" text-anchor="end" fill="#222" stroke="#222" stroke-width="0.2">-1</text>
<line x1="47.00" y1="797.28" x2="49.20" y2="797.28" stroke="#8a8a8a" stroke-width="1" />
<text x="44.4" y="799.8750000000001" font-size="7.2" font-weight="normal" text-anchor="end" fill="#222" stroke="#222" stroke-width="0.2">-1.5</text>
<line x1="47.00" y1="813.30" x2="49.20" y2="813.30" stroke="#8a8a8a" stroke-width="1" />
<text x="44.4" y="815.9000000000001" font-size="7.2" font-weight="normal" text-anchor="end" fill="#222" stroke="#222" stroke-width="0.2">-2</text>
<text x="67.10714285714286" y="827.1" font-size="7.8" font-weight="bold" text-anchor="middle" fill="#111" >M1</text>
<text x="102.92142857142856" y="827.1" font-size="7.8" font-weight="bold" text-anchor="middle" fill="#111" >A7</text>
<text x="138.73571428571427" y="827.1" font-size="7.8" font-weight="bold" text-anchor="middle" fill="#111" >A14</text>
<text x="174.54999999999998" y="827.1" font-size="7.8" font-weight="bold" text-anchor="middle" fill="#111" >C7</text>
<text x="210.3642857142857" y="827.1" font-size="7.8" font-weight="bold" text-anchor="middle" fill="#111" >C14</text>
<text x="246.1785714285714" y="827.1" font-size="7.8" font-weight="bold" text-anchor="middle" fill="#111" >O7</text>
<text x="281.99285714285713" y="827.1" font-size="7.8" font-weight="bold" text-anchor="middle" fill="#111" >O14</text>
<text x="0" y="0" font-size="6.6" font-weight="bold" text-anchor="middle" fill="#000" textLength="78.6" lengthAdjust="spacingAndGlyphs" stroke="#000" stroke-width="0.2" transform="translate(26.4 740.6) rotate(-90)">Normalized Log Intensity</text>
<text x="154.2" y="839.0" font-size="7.3" font-weight="bold" text-anchor="start" fill="#000" textLength="41.0" lengthAdjust="spacingAndGlyphs" >Cell Culture</text>
<line x1="67.60" y1="749.20" x2="280.00" y2="749.20" stroke="#5c5c72" stroke-width="1.25" stroke-dasharray="2.2,4.7"/>
<polyline points="67.11,756.25 102.92,762.66 138.74,759.78 174.55,753.37 210.36,745.35 246.18,692.79 281.99,709.46" fill="none" stroke="#1c28cc" stroke-width="1.2" stroke-linejoin="round"/>
<rect x="65.31" y="754.45" width="3.60" height="3.60" fill="#1c28cc"/>
<rect x="101.12" y="760.86" width="3.60" height="3.60" fill="#1c28cc"/>
<rect x="136.94" y="757.98" width="3.60" height="3.60" fill="#1c28cc"/>
<rect x="172.75" y="751.57" width="3.60" height="3.60" fill="#1c28cc"/>
<rect x="208.56" y="743.55" width="3.60" height="3.60" fill="#1c28cc"/>
<rect x="244.38" y="690.99" width="3.60" height="3.60" fill="#1c28cc"/>
<rect x="280.19" y="707.66" width="3.60" height="3.60" fill="#1c28cc"/>
<polyline points="67.11,762.66 102.92,745.35 138.74,741.83 174.55,750.16 210.36,768.75 246.18,694.07 281.99,694.07" fill="none" stroke="#1a7e26" stroke-width="1.2" stroke-linejoin="round"/>
<path d="M67.11 760.32L69.45 762.66L67.11 765.00L64.77 762.66Z" fill="#1a7e26"/>
<path d="M102.92 743.01L105.26 745.35L102.92 747.69L100.58 745.35Z" fill="#1a7e26"/>
<path d="M138.74 739.49L141.08 741.83L138.74 744.17L136.40 741.83Z" fill="#1a7e26"/>
<path d="M174.55 747.82L176.89 750.16L174.55 752.50L172.21 750.16Z" fill="#1a7e26"/>
<path d="M210.36 766.41L212.70 768.75L210.36 771.09L208.02 768.75Z" fill="#1a7e26"/>
<path d="M246.18 691.73L248.52 694.07L246.18 696.41L243.84 694.07Z" fill="#1a7e26"/>
<path d="M281.99 691.73L284.33 694.07L281.99 696.41L279.65 694.07Z" fill="#1a7e26"/>
<polyline points="67.11,752.41 102.92,747.28 138.74,748.56 174.55,781.25 210.36,772.28 246.18,696.96 281.99,712.66" fill="none" stroke="#e82828" stroke-width="1.2" stroke-linejoin="round"/>
<path d="M67.11 750.07L69.45 754.28L64.77 754.28Z" fill="#e82828"/>
<path d="M102.92 744.94L105.26 749.15L100.58 749.15Z" fill="#e82828"/>
<path d="M138.74 746.22L141.08 750.43L136.40 750.43Z" fill="#e82828"/>
<path d="M174.55 778.91L176.89 783.12L172.21 783.12Z" fill="#e82828"/>
<path d="M210.36 769.94L212.70 774.15L208.02 774.15Z" fill="#e82828"/>
<path d="M246.18 694.62L248.52 698.83L243.84 698.83Z" fill="#e82828"/>
<path d="M281.99 710.32L284.33 714.53L279.65 714.53Z" fill="#e82828"/>
<polyline points="67.11,765.87 102.92,747.92 138.74,735.10 174.55,788.62 210.36,798.56 246.18,688.31 281.99,705.29" fill="none" stroke="#f4a838" stroke-width="1.2" stroke-linejoin="round"/>
<circle cx="67.11" cy="765.87" r="1.80" fill="#f4a838"/>
<circle cx="102.92" cy="747.92" r="1.80" fill="#f4a838"/>
<circle cx="138.74" cy="735.10" r="1.80" fill="#f4a838"/>
<circle cx="174.55" cy="788.62" r="1.80" fill="#f4a838"/>
<circle cx="210.36" cy="798.56" r="1.80" fill="#f4a838"/>
<circle cx="246.18" cy="688.31" r="1.80" fill="#f4a838"/>
<circle cx="281.99" cy="705.29" r="1.80" fill="#f4a838"/>
<polyline points="67.11,737.66 102.92,762.66 138.74,759.46 174.55,795.35 210.36,791.83 246.18,699.52 281.99,697.28" fill="none" stroke="#303040" stroke-width="1.2" stroke-linejoin="round"/>
<path d="M64.77 735.32L69.45 740.00M69.45 735.32L64.77 740.00M67.11 735.32L67.11 740.00" stroke="#303040" stroke-width="1.1"/>
<path d="M100.58 760.32L105.26 765.00M105.26 760.32L100.58 765.00M102.92 760.32L102.92 765.00" stroke="#303040" stroke-width="1.1"/>
<path d="M136.40 757.12L141.08 761.80M141.08 757.12L136.40 761.80M138.74 757.12L138.74 761.80" stroke="#303040" stroke-width="1.1"/>
<path d="M172.21 793.01L176.89 797.69M176.89 793.01L172.21 797.69M174.55 793.01L174.55 797.69" stroke="#303040" stroke-width="1.1"/>
<path d="M208.02 789.49L212.70 794.17M212.70 789.49L208.02 794.17M210.36 789.49L210.36 794.17" stroke="#303040" stroke-width="1.1"/>
<path d="M243.84 697.18L248.52 701.86M248.52 697.18L243.84 701.86M246.18 697.18L246.18 701.86" stroke="#303040" stroke-width="1.1"/>
<path d="M279.65 694.94L284.33 699.62M284.33 694.94L279.65 699.62M281.99 694.94L281.99 699.62" stroke="#303040" stroke-width="1.1"/>
<rect x="306.30" y="714.50" width="48.10" height="53.40" stroke="#999" fill="#fff" stroke-width="0.9" />
<line x1="308.30" y1="720.00" x2="323.60" y2="720.00" stroke="#1c28cc" stroke-width="1.0" />
<rect x="314.20" y="718.20" width="3.60" height="3.60" fill="#1c28cc"/>
<text x="325.6" y="722.2" font-size="5.9" font-weight="normal" text-anchor="start" fill="#111" stroke="#111" stroke-width="0.15">CAMK2NI</text>
<line x1="308.30" y1="730.68" x2="323.60" y2="730.68" stroke="#1a7e26" stroke-width="1.0" />
<path d="M316.00 728.34L318.34 730.68L316.00 733.02L313.66 730.68Z" fill="#1a7e26"/>
<text x="325.6" y="732.88" font-size="5.9" font-weight="normal" text-anchor="start" fill="#111" stroke="#111" stroke-width="0.15">COL8A1</text>
<line x1="308.30" y1="741.36" x2="323.60" y2="741.36" stroke="#e82828" stroke-width="1.0" />
<path d="M316.00 739.02L318.34 743.23L313.66 743.23Z" fill="#e82828"/>
<text x="325.6" y="743.5600000000001" font-size="5.9" font-weight="normal" text-anchor="start" fill="#111" stroke="#111" stroke-width="0.15">CKB</text>
<line x1="308.30" y1="752.04" x2="323.60" y2="752.04" stroke="#f4a838" stroke-width="1.0" />
<circle cx="316.00" cy="752.04" r="1.80" fill="#f4a838"/>
<text x="325.6" y="754.24" font-size="5.9" font-weight="normal" text-anchor="start" fill="#111" stroke="#111" stroke-width="0.15">CRYAB</text>
<line x1="308.30" y1="762.72" x2="323.60" y2="762.72" stroke="#303040" stroke-width="1.0" />
<path d="M313.66 760.38L318.34 765.06M318.34 760.38L313.66 765.06M316.00 760.38L316.00 765.06" stroke="#303040" stroke-width="1.1"/>
<text x="325.6" y="764.9200000000001" font-size="5.9" font-weight="normal" text-anchor="start" fill="#111" stroke="#111" stroke-width="0.15">DKK1</text>
<rect x="398.20" y="85.90" width="120.50" height="45.60" stroke="#000" fill="none" stroke-width="1.6" />
<line x1="398.20" y1="108.70" x2="518.70" y2="108.70" stroke="#000" stroke-width="1.6" />
<line x1="461.70" y1="85.90" x2="461.70" y2="131.50" stroke="#000" stroke-width="1.6" />
<text x="407.3" y="101.54800000000002" font-size="11.8" font-weight="normal" text-anchor="start" fill="#111" stroke="#111" stroke-width="0.2">Marker</text>
<text x="471.0" y="101.54800000000002" font-size="11.8" font-weight="normal" text-anchor="start" fill="#111" stroke="#111" stroke-width="0.2">RQ</text>
<text x="407.3" y="124.34800000000001" font-size="11.8" font-weight="normal" text-anchor="start" fill="#111" stroke="#111" stroke-width="0.2">FOSB</text>
<text x="471.0" y="124.34800000000001" font-size="11.8" font-weight="normal" text-anchor="start" fill="#111" stroke="#111" stroke-width="0.2">57.36</text>
<rect x="397.40" y="264.50" width="121.30" height="68.40" stroke="#000" fill="none" stroke-width="1.6" />
<line x1="397.40" y1="287.30" x2="518.70" y2="287.30" stroke="#000" stroke-width="1.6" />
<line x1="397.40" y1="310.10" x2="518.70" y2="310.10" stroke="#000" stroke-width="1.6" />
<line x1="460.90" y1="264.50" x2="460.90" y2="332.90" stroke="#000" stroke-width="1.6" />
<text x="406.5" y="280.14799999999997" font-size="11.8" font-weight="normal" text-anchor="start" fill="#111" stroke="#111" stroke-width="0.2">Marker</text>
<text x="470.2" y="280.14799999999997" font-size="11.8" font-weight="normal" text-anchor="start" fill="#111" stroke="#111" stroke-width="0.2">RQ</text>
<text x="406.5" y="302.948" font-size="11.8" font-weight="normal" text-anchor="start" fill="#111" stroke="#111" stroke-width="0.2">AKR1C2</text>
<text x="470.2" y="302.948" font-size="11.8" font-weight="normal" text-anchor="start" fill="#111" stroke="#111" stroke-width="0.2">19.05</text>
<text x="406.5" y="325.748" font-size="11.8" font-weight="normal" text-anchor="start" fill="#111" stroke="#111" stroke-width="0.2">GOS2</text>
<text x="470.2" y="325.748" font-size="11.8" font-weight="normal" text-anchor="start" fill="#111" stroke="#111" stroke-width="0.2">102</text>
<text x="368.5" y="303.9" font-size="13.9" font-weight="bold" text-anchor="start" fill="#000" >F</text>
<rect x="391.30" y="521.30" width="120.60" height="45.80" stroke="#000" fill="none" stroke-width="1.6" />
<line x1="391.30" y1="544.20" x2="511.90" y2="544.20" stroke="#000" stroke-width="1.6" />
<line x1="454.60" y1="521.30" x2="454.60" y2="567.10" stroke="#000" stroke-width="1.6" />
<text x="400.40000000000003" y="536.998" font-size="11.8" font-weight="normal" text-anchor="start" fill="#111" stroke="#111" stroke-width="0.2">Marker</text>
<text x="463.90000000000003" y="536.998" font-size="11.8" font-weight="normal" text-anchor="start" fill="#111" stroke="#111" stroke-width="0.2">RQ</text>
<text x="400.40000000000003" y="559.898" font-size="11.8" font-weight="normal" text-anchor="start" fill="#111" stroke="#111" stroke-width="0.2">BGN</text>
<text x="463.90000000000003" y="559.898" font-size="11.8" font-weight="normal" text-anchor="start" fill="#111" stroke="#111" stroke-width="0.2">7.78</text>
<text x="368.6" y="550.4" font-size="13.9" font-weight="bold" text-anchor="start" fill="#000" >G</text>
<rect x="397.50" y="685.50" width="121.20" height="68.40" stroke="#000" fill="none" stroke-width="1.6" />
<line x1="397.50" y1="708.30" x2="518.70" y2="708.30" stroke="#000" stroke-width="1.6" />
<line x1="397.50" y1="731.10" x2="518.70" y2="731.10" stroke="#000" stroke-width="1.6" />
<line x1="461.50" y1="685.50" x2="461.50" y2="753.90" stroke="#000" stroke-width="1.6" />
<text x="406.6" y="701.148" font-size="11.8" font-weight="normal" text-anchor="start" fill="#111" stroke="#111" stroke-width="0.2">Marker</text>
<text x="470.8" y="701.148" font-size="11.8" font-weight="normal" text-anchor="start" fill="#111" stroke="#111" stroke-width="0.2">RQ</text>
<text x="406.6" y="723.948" font-size="11.8" font-weight="normal" text-anchor="start" fill="#111" stroke="#111" stroke-width="0.2">CRYAB</text>
<text x="470.8" y="723.948" font-size="11.8" font-weight="normal" text-anchor="start" fill="#111" stroke="#111" stroke-width="0.2">11.34</text>
<text x="406.6" y="746.748" font-size="11.8" font-weight="normal" text-anchor="start" fill="#111" stroke="#111" stroke-width="0.2">DKK1</text>
<text x="470.8" y="746.748" font-size="11.8" font-weight="normal" text-anchor="start" fill="#111" stroke="#111" stroke-width="0.2">10.46</text>
<text x="368.2" y="724.8" font-size="13.9" font-weight="bold" text-anchor="start" fill="#000" >H</text>
</svg>
</body></html>
